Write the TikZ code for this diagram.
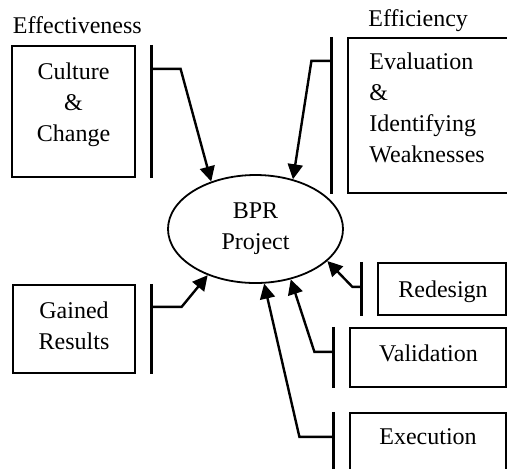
\documentclass[tikz,border=0pt]{standalone}
\usepackage{fontspec}
\setmainfont{Liberation Serif}
\usetikzlibrary{calc,shapes.geometric,arrows.meta}

\begin{document}
\begin{tikzpicture}[x=0.5pt,y=-0.5pt,
    font=\fontsize{12}{15.6}\selectfont,
    box/.style={draw,line width=1.1pt,inner sep=0pt},
    txt/.style={inner sep=0pt,align=center},
    bar/.style={line width=1.4pt},
    link/.style={line width=1.2pt,-{Triangle[length=7.5pt,width=7.5pt]}}]
    \pgfmathsetmacro{\barGap}{15.5}

    \useasboundingbox (0,0) rectangle (507,468);
    \clip (0,0) rectangle (507,468);

    \node[draw,ellipse,line width=0.9pt,minimum width=87.5pt,minimum height=54pt,
      inner sep=0pt,align=center] (bpr) at (255.5,229) {BPR\\Project};

    % effectiveness side
    \node[anchor=base west,inner sep=0pt] (effect) at (12.5,33) {Effectiveness};
    \node[box,minimum width=61.5pt,minimum height=65.5pt] (cult) at (73.5,111.5) {};
    \node[txt] (cultText) at (73.5,104.8) {Culture\\\&\\Change};
    \node[box,minimum width=61pt,minimum height=44pt] (gain) at (74,329) {};
    \node[txt] (gainText) at (74,325.4) {Gained\\Results};

    % efficiency side
    \node[anchor=base west,inner sep=0pt] (effic) at (368,26.5) {Efficiency};
    \node[box,minimum width=84pt,minimum height=77.5pt] (eval) at (432,115.5) {};
    \node[txt,align=left,anchor=west] (evalText) at (369,108)
      {Evaluation\\\&\\Identifying\\Weaknesses};
    \node[box,minimum width=64pt,minimum height=26pt] (redes) at (442,289) {};
    \node[txt] (redesText) at (443,291.5) {Redesign};
    \node[box,minimum width=78pt,minimum height=29.5pt] (valid) at (428,357.5) {};
    \node[txt] (validText) at (428.5,353.5) {Validation};
    \node[box,minimum width=78pt,minimum height=29.5pt] (exec) at (428,442.5) {};
    \node[txt] (execText) at (428,437) {Execution};

    % bars
    \draw[bar] ($(cult.north east)+(\barGap,0)$) -- ($(cult.south east)+(\barGap,0)$);
    \draw[bar] ($(gain.north east)+(\barGap,0)$) -- ($(gain.south east)+(\barGap,0)$);
    \draw[bar] ($(eval.north west)-(\barGap,0)$) -- ($(eval.south west)-(\barGap,0)$);
    \draw[bar] ($(redes.north west)-(\barGap,0)$) -- ($(redes.south west)-(\barGap,0)$);
    \draw[bar] ($(valid.north west)-(\barGap,0)$) -- ($(valid.south west)-(\barGap,0)$);
    \draw[bar] ($(exec.north west)-(\barGap,0)$) -- ($(exec.south west)-(\barGap,0)$);

    % links into the project
    \coordinate (cultOut) at ($(cult.north east)+(\barGap,24)$);
    \coordinate (gainOut) at ($(gain.north east)+(\barGap,23)$);
    \coordinate (evalOut) at ($(eval.north west)+(-\barGap,24)$);
    \coordinate (redesOut) at ($(redes.north west)+(-\barGap,25)$);
    \coordinate (validOut) at ($(valid.north west)+(-\barGap,25)$);
    \coordinate (execOut) at ($(exec.north west)+(-\barGap,25)$);
    \draw[link] (cultOut) -- ++(29,0) -- (bpr.133);
    \draw[link] (gainOut) -- ++(30,0) -- (bpr.224);
    \draw[link] (evalOut) -- ++(-20,0) -- (bpr.53.5);
    \draw[link] (redesOut) -- ++(-9,0) -- (bpr.336);
    \draw[link] (validOut) -- ++(-19,0) -- (bpr.305);
    \draw[link] (execOut) -- ++(-34,0) -- (bpr.279);
\end{tikzpicture}
\end{document}
